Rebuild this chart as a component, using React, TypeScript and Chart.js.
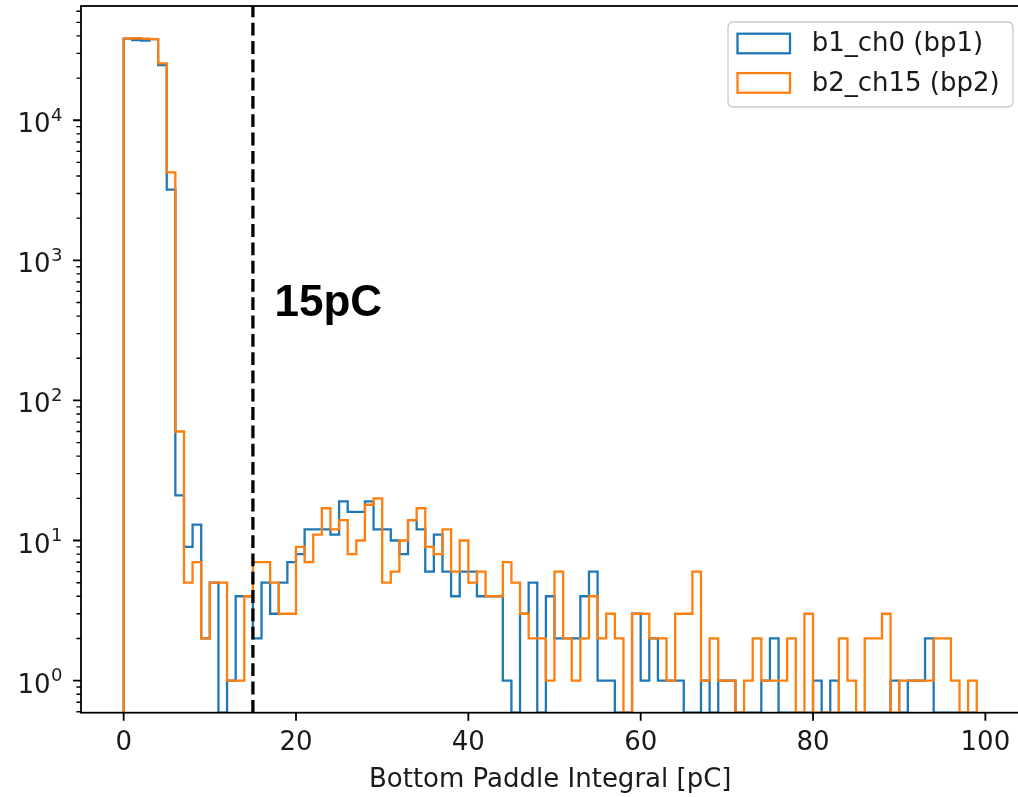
import React, { useEffect, useRef } from 'react';
import { Chart, registerables } from 'chart.js';

Chart.register(...registerables);

// ---- data ----
const BIN_EDGES = [
  0, 1, 2, 3, 4, 5, 6, 7, 8, 9, 10, 11, 12, 13, 14, 15, 16, 17, 18, 19,
  20, 21, 22, 23, 24, 25, 26, 27, 28, 29, 30, 31, 32, 33, 34, 35, 36, 37, 38, 39,
  40, 41, 42, 43, 44, 45, 46, 47, 48, 49, 50, 51, 52, 53, 54, 55, 56, 57, 58, 59,
  60, 61, 62, 63, 64, 65, 66, 67, 68, 69, 70, 71, 72, 73, 74, 75, 76, 77, 78, 79,
  80, 81, 82, 83, 84, 85, 86, 87, 88, 89, 90, 91, 92, 93, 94, 95, 96, 97, 98, 99,
];

const COUNTS_B1_CH0 = [
  38200, 37400, 37100, 37900, 24800, 3200, 21, 9, 13, 2,
  5, 0, 1, 4, 4, 2, 5, 3, 5, 7,
  8, 12, 12, 12, 11, 19, 16, 16, 19, 12,
  12, 10, 8, 14, 12, 6, 11, 6, 4, 6,
  6, 4, 4, 4, 1, 0, 3, 5, 0, 4,
  2, 2, 2, 4, 6, 1, 1, 0, 0, 3,
  1, 2, 1, 1, 1, 0, 0, 1, 0, 1,
  1, 0, 0, 0, 1, 2, 0, 0, 0, 0,
  1, 0, 1, 0, 0, 0, 0, 0, 0, 1,
  0, 1, 1, 2, 0, 0, 0, 0, 0,
];

const COUNTS_B2_CH15 = [
  38200, 38500, 38300, 37900, 25500, 4250, 60, 5, 7, 2,
  5, 5, 1, 1, 4, 7, 7, 5, 3, 3,
  9, 7, 11, 17, 12, 14, 8, 10, 18, 20,
  5, 6, 10, 14, 17, 9, 8, 12, 6, 10,
  5, 6, 4, 4, 7, 5, 3, 2, 2, 1,
  6, 2, 1, 2, 4, 2, 3, 2, 0, 3,
  3, 2, 2, 1, 3, 3, 6, 1, 2, 1,
  1, 0, 1, 2, 1, 1, 1, 2, 0, 3,
  0, 0, 0, 2, 1, 0, 2, 2, 3, 0,
  1, 1, 1, 1, 2, 2, 1, 0, 1,
];

const SERIES_LABELS = ['b1_ch0 (bp1)', 'b2_ch15 (bp2)'];
const SERIES_COLORS = ['#1f77b4', '#ff7f0e'];

const X_TICKS = [0, 20, 40, 60, 80, 100];
const Y_MAJOR_TICKS = [1, 10, 100, 1000, 10000];
const Y_TICK_BASE = '10';
const Y_TICK_EXPONENTS = ['0', '1', '2', '3', '4'];
const Y_MINOR_TICKS = [
  0.6, 0.7, 0.8, 0.9,
  2, 3, 4, 5, 6, 7, 8, 9,
  20, 30, 40, 50, 60, 70, 80, 90,
  200, 300, 400, 500, 600, 700, 800, 900,
  2000, 3000, 4000, 5000, 6000, 7000, 8000, 9000,
  20000, 30000, 40000, 50000, 60000,
];

const X_MIN = -4.95;
const X_MAX = 103.95;
const Y_MIN = 0.59;
const Y_MAX = 65400;

const CUT_VALUE = 15;
const CUT_LABEL = '15pC';
const CUT_LABEL_POS = { x: 17.5, y: 400 };

const X_TITLE = 'Bottom Paddle Integral [pC]';

const FONT = '"DejaVu Sans", Verdana, sans-serif';
const FONT_SIZE = 26;
const TEXT_COLOR = '#1a1a1a';

function toSteps(counts: number[]) {
  const pts: { x: number; y: number }[] = [{ x: BIN_EDGES[0], y: Y_MIN }];
  counts.forEach((c, i) => pts.push({ x: BIN_EDGES[i], y: c > 0 ? c : Y_MIN }));
  pts.push({ x: BIN_EDGES[counts.length], y: Y_MIN });
  return pts;
}

const overlayPlugin = {
  id: 'overlay',
  afterDraw(chart: any) {
    const ctx: CanvasRenderingContext2D = chart.ctx;
    const { left, right, top, bottom } = chart.chartArea;
    const xs = chart.scales.x;
    const ys = chart.scales.y;
    ctx.save();

    // dashed cut line
    const xc = xs.getPixelForValue(CUT_VALUE);
    ctx.strokeStyle = '#000';
    ctx.lineWidth = 3.3;
    ctx.setLineDash([12.8, 5.5]);
    ctx.beginPath();
    ctx.moveTo(xc, bottom);
    ctx.lineTo(xc, top);
    ctx.stroke();
    ctx.setLineDash([]);

    // annotation
    ctx.font = 'bold 44px "Liberation Sans", Arial, Helvetica, sans-serif';
    ctx.fillStyle = '#000';
    ctx.textAlign = 'left';
    ctx.textBaseline = 'alphabetic';
    ctx.fillText(CUT_LABEL, xs.getPixelForValue(CUT_LABEL_POS.x), ys.getPixelForValue(CUT_LABEL_POS.y));

    // frame
    ctx.strokeStyle = '#000';
    ctx.lineWidth = 1.8;
    ctx.strokeRect(left, top, right - left, bottom - top);

    // ticks
    ctx.beginPath();
    X_TICKS.forEach((v) => {
      const p = xs.getPixelForValue(v);
      ctx.moveTo(p, bottom);
      ctx.lineTo(p, bottom + 8);
    });
    Y_MAJOR_TICKS.forEach((v) => {
      const p = ys.getPixelForValue(v);
      ctx.moveTo(left, p);
      ctx.lineTo(left - 8, p);
    });
    ctx.stroke();
    ctx.lineWidth = 1.4;
    ctx.beginPath();
    Y_MINOR_TICKS.forEach((v) => {
      const p = ys.getPixelForValue(v);
      ctx.moveTo(left, p);
      ctx.lineTo(left - 4.6, p);
    });
    ctx.stroke();

    // y tick labels (base with raised exponent)
    ctx.fillStyle = TEXT_COLOR;
    ctx.textBaseline = 'alphabetic';
    ctx.textAlign = 'left';
    const baseFont = `${FONT_SIZE}px ${FONT}`;
    const expFont = `18px ${FONT}`;
    Y_MAJOR_TICKS.forEach((v, i) => {
      const p = ys.getPixelForValue(v);
      ctx.font = baseFont;
      const wb = ctx.measureText(Y_TICK_BASE).width;
      ctx.font = expFont;
      const we = ctx.measureText(Y_TICK_EXPONENTS[i]).width;
      const x0 = left - 19 - wb - we;
      ctx.font = baseFont;
      ctx.fillText(Y_TICK_BASE, x0, p + 12);
      ctx.font = expFont;
      ctx.fillText(Y_TICK_EXPONENTS[i], x0 + wb + 0.5, p + 0.5);
    });

    // legend
    const lx = 728, ly = 22, lw = 285, lh = 85;
    ctx.beginPath();
    ctx.roundRect(lx, ly, lw, lh, 5);
    ctx.fillStyle = 'rgba(255,255,255,0.8)';
    ctx.fill();
    ctx.strokeStyle = '#cccccc';
    ctx.lineWidth = 1.4;
    ctx.stroke();
    ctx.font = `${FONT_SIZE}px ${FONT}`;
    ctx.textAlign = 'left';
    ctx.textBaseline = 'middle';
    SERIES_LABELS.forEach((label, i) => {
      const cy = 43.5 + i * 39.4;
      ctx.strokeStyle = SERIES_COLORS[i];
      ctx.lineWidth = 2.3;
      ctx.strokeRect(737.5, cy - 9.8, 52.5, 19.6);
      ctx.fillStyle = TEXT_COLOR;
      ctx.fillText(label, 811.7, cy + 1);
    });

    ctx.restore();
  },
};

export default function App() {
  const ref = useRef<HTMLCanvasElement>(null);

  useEffect(() => {
    const canvas = ref.current;
    if (!canvas) return;
    const chart = new Chart(canvas, {
      type: 'line',
      data: {
        datasets: [
          {
            label: SERIES_LABELS[0],
            data: toSteps(COUNTS_B1_CH0),
            borderColor: SERIES_COLORS[0],
            borderWidth: 2.3,
            stepped: 'before',
            pointRadius: 0,
            fill: false,
            order: 1,
          },
          {
            label: SERIES_LABELS[1],
            data: toSteps(COUNTS_B2_CH15),
            borderColor: SERIES_COLORS[1],
            borderWidth: 2.3,
            stepped: 'before',
            pointRadius: 0,
            fill: false,
            order: 0,
          },
        ],
      },
      options: {
        animation: false,
        responsive: false,
        devicePixelRatio: 1,
        layout: { padding: { left: 0, top: 6, right: 20.6, bottom: 0 } },
        plugins: {
          legend: { display: false },
          tooltip: { enabled: false },
        },
        elements: { line: { borderJoinStyle: 'miter', tension: 0 } },
        scales: {
          x: {
            type: 'linear',
            min: X_MIN,
            max: X_MAX,
            grid: { display: false, drawTicks: false },
            border: { display: false },
            afterBuildTicks: (s: any) => {
              s.ticks = X_TICKS.map((v) => ({ value: v }));
            },
            afterFit: (s: any) => {
              s.height = 797 - 712.7;
              s.paddingLeft = 0;
              s.paddingRight = 0;
            },
            ticks: {
              autoSkip: false,
              maxRotation: 0,
              padding: 15,
              color: TEXT_COLOR,
              font: { family: FONT, size: FONT_SIZE },
              callback: (v: any) => String(v),
            },
            title: {
              display: true,
              text: X_TITLE,
              color: TEXT_COLOR,
              font: { family: FONT, size: FONT_SIZE },
              padding: { top: 0, bottom: 1 },
            },
          },
          y: {
            type: 'logarithmic',
            min: Y_MIN,
            max: Y_MAX,
            grid: { display: false, drawTicks: false },
            border: { display: false },
            afterBuildTicks: (s: any) => {
              s.ticks = Y_MAJOR_TICKS.map((v) => ({ value: v }));
            },
            afterFit: (s: any) => {
              s.width = 81;
              s.paddingTop = 0;
              s.paddingBottom = 0;
            },
            ticks: {
              display: false,
            },
          },
        },
      },
      plugins: [overlayPlugin],
    } as any);
    return () => chart.destroy();
  }, []);

  return (
    <div
      style={{
        position: 'absolute',
        left: 0,
        top: 0,
        width: 1018,
        height: 797,
        overflow: 'hidden',
        background: '#fff',
      }}
    >
      <canvas ref={ref} width={1040} height={797} style={{ display: 'block', width: 1040, height: 797 }} />
    </div>
  );
}
